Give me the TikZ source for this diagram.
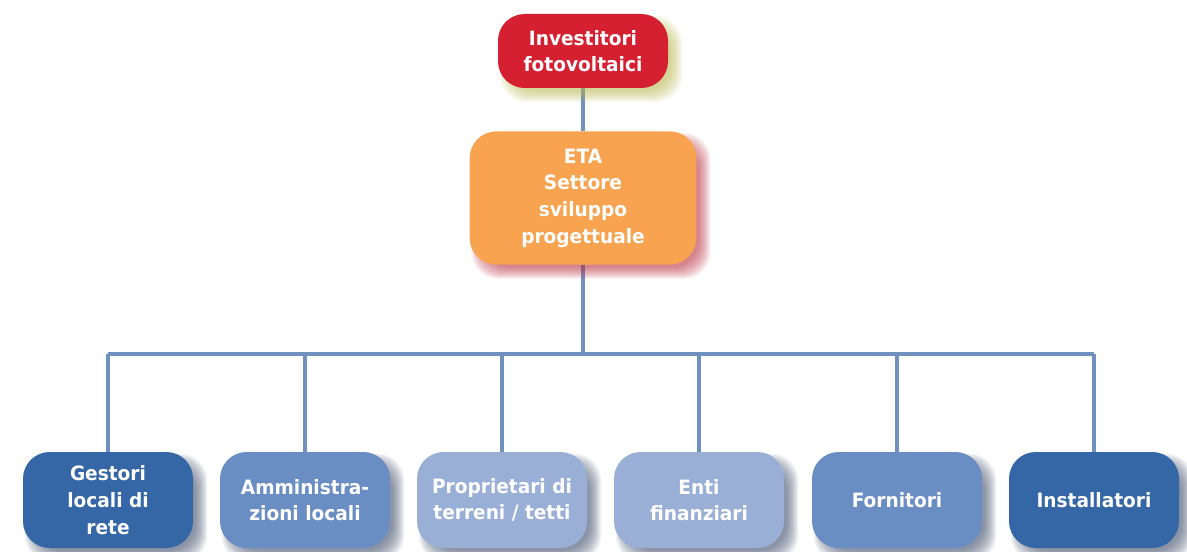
\documentclass[tikz,border=0pt]{standalone}
\usepackage{fontspec}
\setmainfont{DejaVu Sans}[FakeStretch=0.94]
\usetikzlibrary{backgrounds}
\definecolor{cred}{HTML}{D42030}
\definecolor{corange}{HTML}{F7A350}
\definecolor{cdark}{HTML}{3566A5}
\definecolor{cmid}{HTML}{6A8EC3}
\definecolor{clight}{HTML}{9AAFD6}
\definecolor{cline}{HTML}{7090C0}
\definecolor{shy}{HTML}{B8B850}
\definecolor{shr}{HTML}{B83040}
\definecolor{shb}{HTML}{3A4A66}
\begin{document}
\begin{tikzpicture}[x=0.75pt,y=-0.75pt,
  box/.style={rounded corners=20pt, minimum width=127.5pt, minimum height=72pt,
    inner sep=0pt, align=center, text=white,
    font=\fontsize{14.8}{20}\selectfont\bfseries},
  conn/.style={draw=cline, line width=3.2pt}]
\useasboundingbox (0,0) rectangle (1187,552);
\node[box, fill=cred, minimum height=55.5pt] (inv) at (583,51) {Investitori\\fotovoltaici};
\node[box, fill=corange, minimum width=170pt, minimum height=100pt] (eta) at (583,198) {ETA\\Settore\\sviluppo\\progettuale};
\node[box, fill=cdark] (g) at (108,500) {Gestori\\locali di\\rete};
\node[box, fill=cmid] (a) at (305,500) {Amministra-\\zioni locali};
\node[box, fill=clight] (p) at (502,500) {Proprietari di\\terreni / tetti};
\node[box, fill=clight] (e) at (699,500) {Enti\\finanziari};
\node[box, fill=cmid] (f) at (897,500) {Fornitori};
\node[box, fill=cdark] (i) at (1094,500) {Installatori};
\coordinate (bus) at (583,354);
\begin{scope}[on background layer]
  \draw[conn] (inv.south) -- (eta.north);
  \draw[conn] (eta.south) -- (bus);
  \draw[conn] (g.north |- bus) -- (i.north |- bus);
  \foreach \n in {g,a,p,e,f,i} \draw[conn] (\n.north |- bus) -- (\n.north);
  \foreach \n/\c in {inv/shy,eta/shr,g/shb,a/shb,p/shb,e/shb,f/shb,i/shb}
    \foreach \e in {-6,...,6}
      \fill[\c, opacity=0.065, rounded corners=20pt]
        ([shift={(8-\e,8+\e)}]\n.south west) rectangle ([shift={(8+\e,8-\e)}]\n.north east);
\end{scope}
\end{tikzpicture}
\end{document}
